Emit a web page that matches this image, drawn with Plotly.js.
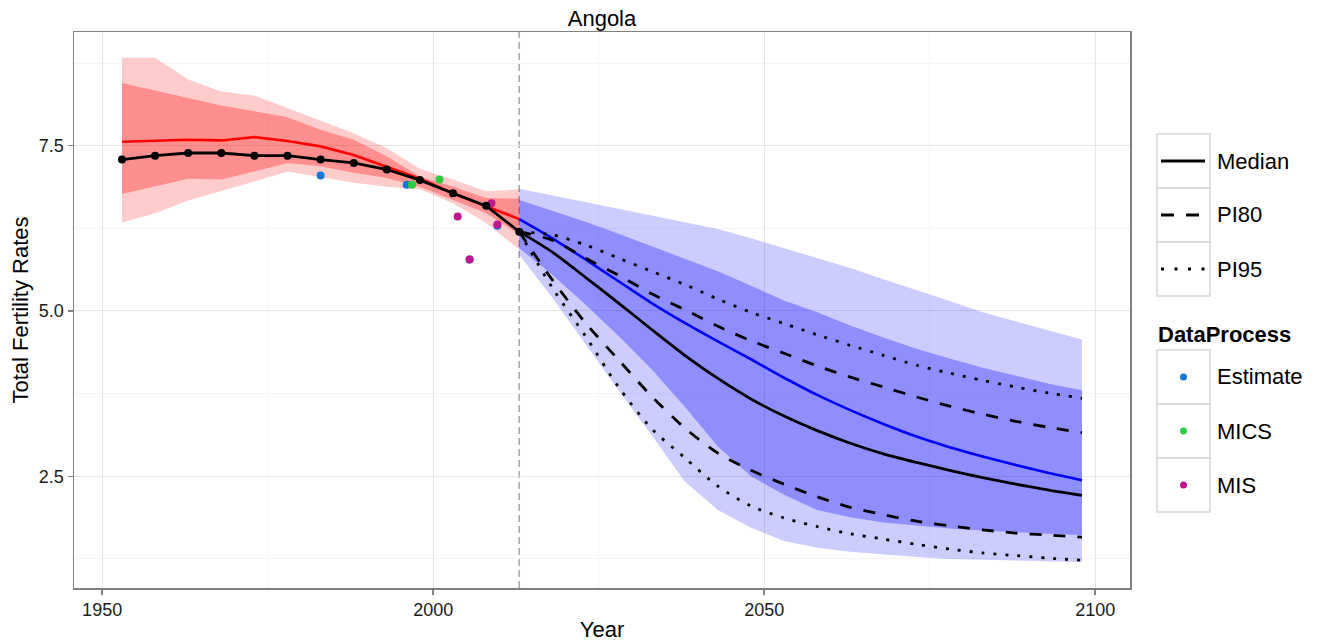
<!DOCTYPE html>
<html>
<head>
<meta charset="utf-8">
<script src="https://cdn.plot.ly/plotly-3.0.1.min.js"></script>
<style>html,body{margin:0;padding:0;background:#fff;}#chart{width:1317px;height:644px;}</style>
</head>
<body>
<div id="chart"></div>
<script>
// ---------- data ----------
const histYears = [1953,1958,1963,1968,1973,1978,1983,1988,1993,1998,2003,2008,2013];
const histObserved = [7.29,7.35,7.39,7.39,7.35,7.35,7.29,7.24,7.14,6.98,6.78,6.59,6.20];
const histMedian = [7.56,7.57,7.59,7.58,7.63,7.57,7.49,7.36,7.18,7.00,6.78,6.59,6.39];
const histPI80Up = [8.45,8.33,8.22,8.11,8.02,7.93,7.74,7.59,7.34,7.03,6.88,6.71,6.70];
const histPI80Lo = [6.77,6.88,7.00,6.99,7.11,7.24,7.19,7.09,7.01,6.88,6.68,6.48,6.16];
const histPI95Up = [8.83,8.83,8.50,8.32,8.26,8.07,7.88,7.69,7.46,7.15,6.99,6.81,6.84];
const histPI95Lo = [6.34,6.48,6.67,6.81,6.96,7.11,7.03,6.94,6.88,6.84,6.63,6.33,5.93];

const projYears = [2013,2018,2023,2028,2033,2038,2043,2048,2053,2058,2063,2068,2073,2078,2083,2088,2093,2098];
const projMedianBlue = [6.39,6.10,5.78,5.45,5.12,4.82,4.54,4.27,3.99,3.73,3.50,3.29,3.10,2.94,2.80,2.67,2.55,2.44];
const projBand95Up = [6.85,6.75,6.65,6.55,6.45,6.35,6.24,6.10,5.95,5.80,5.65,5.48,5.32,5.15,4.98,4.84,4.70,4.57];
const projBand95Lo = [5.85,5.20,4.50,3.80,3.12,2.42,1.99,1.72,1.52,1.42,1.36,1.32,1.28,1.25,1.23,1.22,1.21,1.20];
const projBand80Up = [6.68,6.52,6.35,6.17,5.98,5.80,5.60,5.38,5.16,4.98,4.78,4.60,4.43,4.28,4.14,4.02,3.90,3.80];
const projBand80Lo = [5.95,5.55,5.10,4.62,4.12,3.55,2.95,2.50,2.22,1.99,1.88,1.80,1.75,1.71,1.68,1.65,1.63,1.61];

const projMedian = [6.20,5.89,5.51,5.12,4.72,4.33,3.98,3.67,3.41,3.19,3.00,2.84,2.71,2.59,2.48,2.38,2.29,2.21];
const projPI80Up = [6.20,6.07,5.80,5.54,5.26,5.02,4.77,4.55,4.36,4.17,4.00,3.85,3.70,3.56,3.44,3.33,3.24,3.16];
const projPI80Lo = [6.20,5.47,4.82,4.26,3.71,3.23,2.85,2.59,2.38,2.19,2.03,1.92,1.82,1.75,1.69,1.64,1.61,1.58];
const projPI95Up = [6.20,6.15,6.00,5.80,5.60,5.40,5.18,4.98,4.81,4.64,4.48,4.33,4.18,4.06,3.95,3.85,3.76,3.68];
const projPI95Lo = [6.20,5.35,4.62,3.85,3.22,2.78,2.35,2.05,1.87,1.74,1.63,1.55,1.47,1.40,1.34,1.30,1.26,1.23];

const estimateYears = [1983.0,1996.0,2005.5,2009.7];
const estimateValues = [7.05,6.91,5.78,6.29];
const micsYears = [1996.8,2000.95];
const micsValues = [6.91,6.99];
const misYears = [2003.7,2005.5,2008.8,2009.7];
const misValues = [6.43,5.78,6.63,6.31];

const splitYear = 2013;
const lineKeys = ['Median','PI80','PI95'];
const pointKeys = ['Estimate','MICS','MIS'];
const pointColors = {Estimate:'#1477d6', MICS:'#2ecc40', MIS:'#c0148c'};

// ---------- helpers ----------
function band(xs, up, lo, color, name){
  return {x: xs.concat(xs.slice().reverse()), y: up.concat(lo.slice().reverse()),
    type:'scatter', mode:'lines', fill:'toself', fillcolor:color, line:{width:0},
    hoverinfo:'skip', showlegend:false, name:name};
}
function line(xs, ys, color, dash, width, smooth){
  const ln = {color:color, width:width||2.6, dash:dash||'solid'};
  if (smooth) { ln.shape = 'spline'; ln.smoothing = 0.8; }
  return {x:xs, y:ys, type:'scatter', mode:'lines', line:ln, showlegend:false};
}

const traces = [
  band(histYears, histPI95Up, histPI95Lo, 'rgba(255,0,0,0.2)', 'hist95'),
  band(histYears, histPI80Up, histPI80Lo, 'rgba(255,0,0,0.3)', 'hist80'),
  band(projYears, projBand95Up, projBand95Lo, 'rgba(0,0,255,0.2)', 'proj95'),
  band(projYears, projBand80Up, projBand80Lo, 'rgba(0,0,255,0.3)', 'proj80'),
  line(histYears, histMedian, '#ff0000'),
  line(projYears, projMedianBlue, '#0000ff', 'solid', 2.6, true),
  {x:estimateYears, y:estimateValues, type:'scatter', mode:'markers', marker:{color:pointColors.Estimate, size:8}, showlegend:false},
  {x:micsYears, y:micsValues, type:'scatter', mode:'markers', marker:{color:pointColors.MICS, size:8}, showlegend:false},
  {x:misYears, y:misValues, type:'scatter', mode:'markers', marker:{color:pointColors.MIS, size:8}, showlegend:false},
  line(projYears, projPI95Up, '#000', '3px,9px', 2.8, true),
  line(projYears, projPI95Lo, '#000', '3px,9px', 2.8, true),
  line(projYears, projPI80Up, '#000', '12px,12px', 2.8, true),
  line(projYears, projPI80Lo, '#000', '12px,12px', 2.8, true),
  line(projYears, projMedian, '#000', 'solid', 2.8, true),
  {x:histYears, y:histObserved, type:'scatter', mode:'lines+markers', line:{color:'#000', width:2.8}, marker:{color:'#000', size:8}, showlegend:false}
];

// ---------- legend drawn in paper coordinates ----------
const L = 74, R = 1130, T = 32, B = 588;
const px = v => (v - L) / (R - L);
const py = v => (B - v) / (B - T);
const shapes = [
  {type:'line', xref:'x', yref:'paper', x0:splitYear, x1:splitYear, y0:0, y1:1, layer:'below',
   line:{color:'#aaaaaa', width:1.6, dash:'7px,4px'}}
];
const annotations = [];
const font = 'Liberation Sans, Arial, Helvetica, sans-serif';
const boxX0 = 1157, boxX1 = 1210, keyH = 54;
lineKeys.forEach((k, i) => {
  const top = 134 + i * keyH, mid = top + keyH / 2;
  shapes.push({type:'rect', xref:'paper', yref:'paper', x0:px(boxX0), x1:px(boxX1), y0:py(top + keyH), y1:py(top),
    line:{color:'#d6d6d6', width:1.5}, fillcolor:'#ffffff'});
  const dash = i === 0 ? 'solid' : (i === 1 ? '13px,12px' : '3px,10.5px');
  shapes.push({type:'line', xref:'paper', yref:'paper', x0:px(1161), x1:px(1205), y0:py(mid), y1:py(mid),
    line:{color:'#000', width:3, dash:dash}});
  annotations.push({xref:'paper', yref:'paper', x:px(1215), y:py(mid), text:k, showarrow:false,
    xanchor:'left', yanchor:'middle', font:{family:font, size:22, color:'#000'}});
});
annotations.push({xref:'paper', yref:'paper', x:px(1156), y:py(335), text:'<b>DataProcess</b>', showarrow:false,
  xanchor:'left', yanchor:'middle', font:{family:font, size:22, color:'#000'}});
pointKeys.forEach((k, i) => {
  const top = 350 + i * keyH, mid = top + keyH / 2;
  shapes.push({type:'rect', xref:'paper', yref:'paper', x0:px(boxX0), x1:px(boxX1), y0:py(top + keyH), y1:py(top),
    line:{color:'#d6d6d6', width:1.5}, fillcolor:'#ffffff'});
  shapes.push({type:'circle', xref:'paper', yref:'paper', x0:px(1180), x1:px(1187), y0:py(mid + 3.5), y1:py(mid - 3.5),
    line:{width:0}, fillcolor:pointColors[k]});
  annotations.push({xref:'paper', yref:'paper', x:px(1215), y:py(mid), text:k, showarrow:false,
    xanchor:'left', yanchor:'middle', font:{family:font, size:22, color:'#000'}});
});

const layout = {
  width:1317, height:644,
  margin:{l:L, r:1317 - R, t:T, b:644 - B, pad:0},
  paper_bgcolor:'#fff', plot_bgcolor:'#fff',
  font:{family:font, color:'#000'},
  showlegend:false,
  title:{text:'Angola', font:{family:font, size:22, color:'#000'}, x:0.5, xref:'paper', xanchor:'center',
         y:1 - 18/644, yref:'container', yanchor:'middle'},
  xaxis:{range:[1945.75, 2105.25], tick0:1950, dtick:50, tickformat:'d',
    showgrid:true, gridcolor:'#e6e6e6', gridwidth:1, zeroline:false,
    minor:{tick0:1950, dtick:25, showgrid:true, gridcolor:'#f5f5f5', gridwidth:1, ticks:''},
    ticks:'outside', ticklen:5, tickwidth:1.5, tickcolor:'#7f7f7f',
    showline:true, mirror:true, linecolor:'#7f7f7f', linewidth:1.5,
    tickfont:{family:font, size:18, color:'#1a1a1a'},
    title:{text:'Year', font:{family:font, size:22, color:'#000'}, standoff:2}},
  yaxis:{range:[0.81, 9.22], tick0:0, dtick:2.5, tickformat:'.1f',
    showgrid:true, gridcolor:'#e6e6e6', gridwidth:1, zeroline:false,
    minor:{tick0:0, dtick:1.25, showgrid:true, gridcolor:'#f5f5f5', gridwidth:1, ticks:''},
    ticks:'outside', ticklen:5, tickwidth:1.5, tickcolor:'#7f7f7f',
    showline:true, mirror:true, linecolor:'#7f7f7f', linewidth:1.5,
    tickfont:{family:font, size:18, color:'#1a1a1a'},
    title:{text:'Total Fertility Rates', font:{family:font, size:22, color:'#000'}, standoff:4}},
  shapes:shapes,
  annotations:annotations
};

Plotly.newPlot('chart', traces, layout, {displayModeBar:false, staticPlot:true});
</script>
</body>
</html>
